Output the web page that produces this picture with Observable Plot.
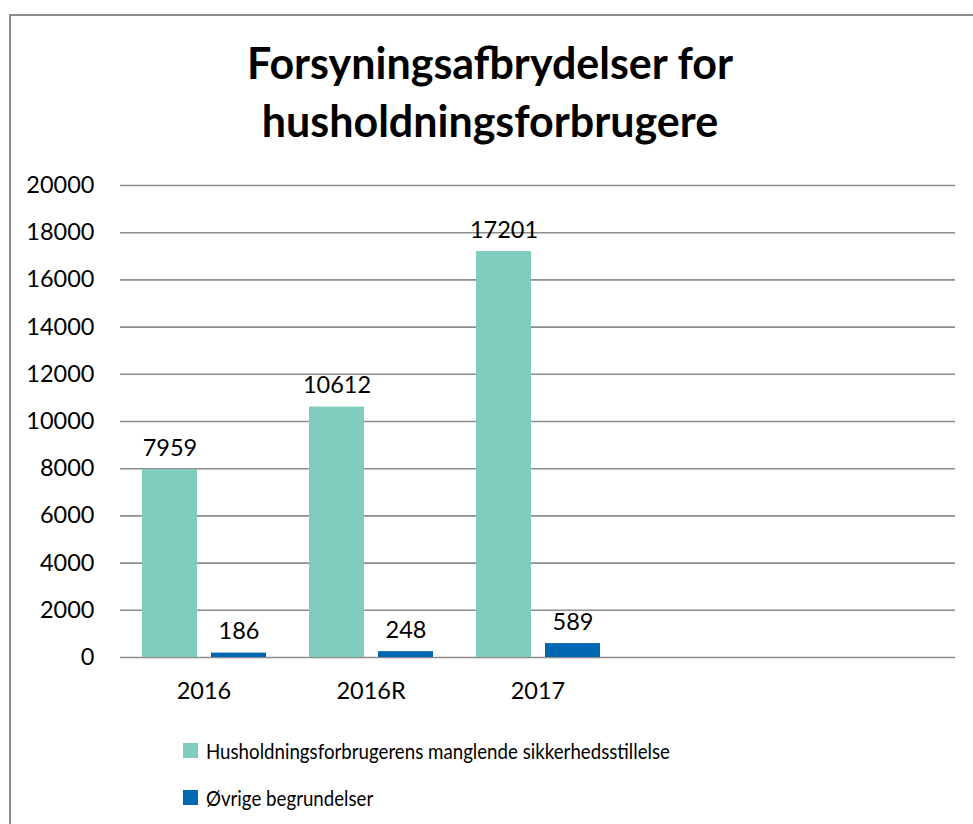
<!DOCTYPE html>
<html>
<head>
<meta charset="utf-8">
<script src="https://cdn.jsdelivr.net/npm/d3@7"></script>
<script src="https://cdn.jsdelivr.net/npm/@observablehq/plot@0.6"></script>
<style>
  html, body { margin: 0; padding: 0; background: #fff; }
  #wrap { position: relative; width: 973px; height: 824px; overflow: hidden; font-family: Lato, "Open Sans", sans-serif; color: #000; }
  #frame { position: absolute; left: 9px; top: 14px; width: 1000px; height: 900px; border: 2px solid #8c8c8c; box-sizing: border-box; }
  #title { position: absolute; left: 0; width: 980px; top: 34px; text-align: center; font-weight: bold; font-size: 43px; line-height: 58px; }
  #chart { position: absolute; left: 0; top: 0; }
  #legend { position: absolute; left: 183px; top: 727px; font-size: 21px; }
  .item { display: flex; align-items: center; height: 47px; white-space: nowrap; }
  .sw { width: 15px; height: 15px; margin-right: 8px; flex: none; }
  .lt { display: inline-block; transform: scaleX(0.89); transform-origin: left center; }
</style>
</head>
<body>
<div id="wrap">
  <div id="frame"></div>
  <div id="chart"></div>
  <div id="title">Forsyningsafbrydelser for<br>husholdningsforbrugere</div>
  <div id="legend"></div>
</div>
<script>
const categories = ["2016", "2016R", "2017"];
const slots = ["2016", "2016R", "2017", "_a", "_b"];
const seriesNames = ["Husholdningsforbrugerens manglende sikkerhedsstillelse", "Øvrige begrundelser"];
const seriesA = [7959, 10612, 17201];
const seriesB = [186, 248, 589];
const colors = ["#7fccbf", "#0067b2"];
const yTicks = d3.range(0, 20001, 2000);

const data = categories.flatMap((c, i) => [
  {cat: c, series: seriesNames[0], value: seriesA[i]},
  {cat: c, series: seriesNames[1], value: seriesB[i]}
]);
const grid = slots.flatMap(c => yTicks.map(t => ({cat: c, t})));

const plot = Plot.plot({
  width: 973,
  height: 720,
  marginLeft: 119,
  marginRight: 17,
  marginTop: 185,
  marginBottom: 63,
  style: {fontFamily: "Lato, 'Open Sans', sans-serif", fontSize: "23.5px", color: "#000", background: "transparent"},
  fx: {domain: slots, padding: 0, tickSize: 0, tickPadding: 25, tickFormat: d => d.startsWith("_") ? "" : d, label: null},
  x: {domain: seriesNames, paddingInner: 0.207, paddingOuter: 0.3, axis: null},
  y: {domain: [0, 20000], ticks: yTicks, tickSize: 0, tickPadding: 26, tickFormat: d3.format("d"), label: null},
  color: {domain: seriesNames, range: colors},
  marks: [
    Plot.ruleY(grid, {fx: "cat", y: "t", stroke: "#8c8c8c", strokeWidth: 1.6}),
    Plot.barY(data, {fx: "cat", x: "series", y: "value", fill: "series"}),
    Plot.text(data, {fx: "cat", x: "series", y: "value", text: d => String(d.value), lineAnchor: "bottom", dy: -14, fontSize: 23.5, fill: "#000"})
  ]
});
document.getElementById("chart").appendChild(plot);

const legend = document.getElementById("legend");
seriesNames.forEach((s, i) => {
  const row = document.createElement("div");
  row.className = "item";
  const sw = document.createElement("div");
  sw.className = "sw";
  sw.style.background = colors[i];
  const t = document.createElement("span");
  t.className = "lt";
  t.textContent = s;
  row.appendChild(sw);
  row.appendChild(t);
  legend.appendChild(row);
});
</script>
</body>
</html>
